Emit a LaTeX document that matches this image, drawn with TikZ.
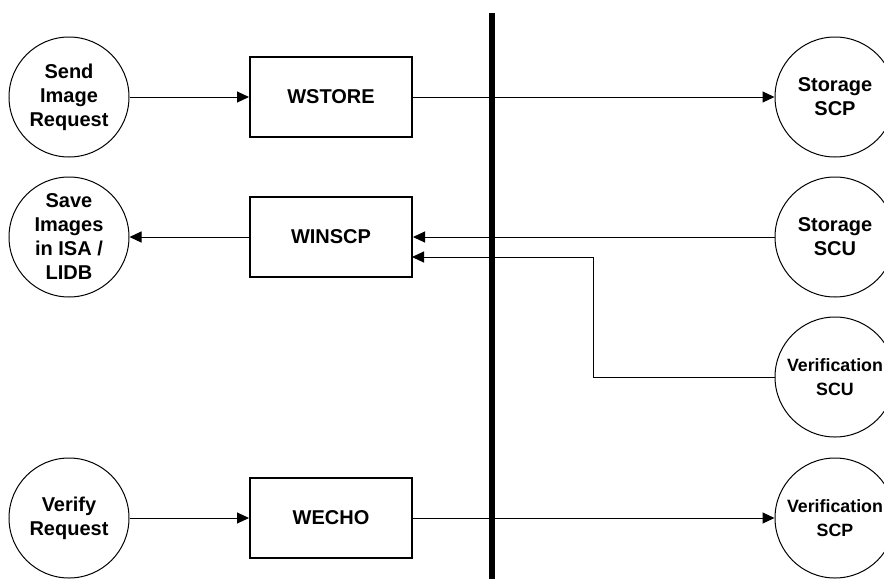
\documentclass[tikz,border=0pt]{standalone}
\usepackage{fontspec}
\setmainfont{Liberation Sans}
\usetikzlibrary{arrows.meta}

\tikzset{
  proc/.style={circle, draw, line width=1pt, minimum size=120pt, inner sep=0pt,
               align=center, font=\bfseries\fontsize{20}{24}\selectfont},
  small/.style={font=\bfseries\fontsize{17.8}{24}\selectfont},
  prog/.style={rectangle, draw, line width=2pt, minimum width=162pt, minimum height=80pt,
               inner sep=0pt, font=\bfseries\fontsize{20}{24}\selectfont},
  flow/.style={line width=1pt, -{Triangle[length=12pt,width=11pt]}},
  link/.style={line width=1pt}
}

\begin{document}
\begin{tikzpicture}[x=1pt,y=-1pt]
  \useasboundingbox (0,0) rectangle (884,579);
  \clip (0,0) rectangle (884,579);

  % Left hand processes
  \node[proc] (send) at (69,97) {Send\\Image\\Request};
  \node[proc] (save) at (69,237) {Save\\Images\\in ISA /\\LIDB};
  \node[proc] (verify) at (69,518) {Verify\\Request};

  % Programs
  \node[prog] (wstore) at (331,97) {WSTORE};
  \node[prog] (winscp) at (331,237) {WINSCP};
  \node[prog] (wecho) at (331,518) {WECHO};

  % Remote side
  \node[proc] (storscp) at (835,97) {Storage\\SCP};
  \node[proc] (storscu) at (835,237) {Storage\\SCU};
  \node[proc,small] (verscu) at (835,377) {Verification\\SCU};
  \node[proc,small] (verscp) at (835,518) {Verification\\SCP};

  % Dividing bar
  \coordinate (bartop) at (492,13);
  \coordinate (barbot) at (492,579);
  \draw[line width=6pt] (bartop) -- (barbot);

  % Store path
  \draw[flow] (send) -- (wstore);
  \draw[flow] (wstore) -- (storscp);

  % Receive path
  \draw[flow] (storscu) -- (winscp);
  \draw[flow] (winscp) -- (save);
  \coordinate (bend) at (593,377);
  \coordinate (winin) at (412,257);
  \draw[flow] (verscu.west) -- (bend) |- (winin);

  % Echo path
  \draw[flow] (verify) -- (wecho);
  \draw[flow] (wecho) -- (verscp);
\end{tikzpicture}
\end{document}
